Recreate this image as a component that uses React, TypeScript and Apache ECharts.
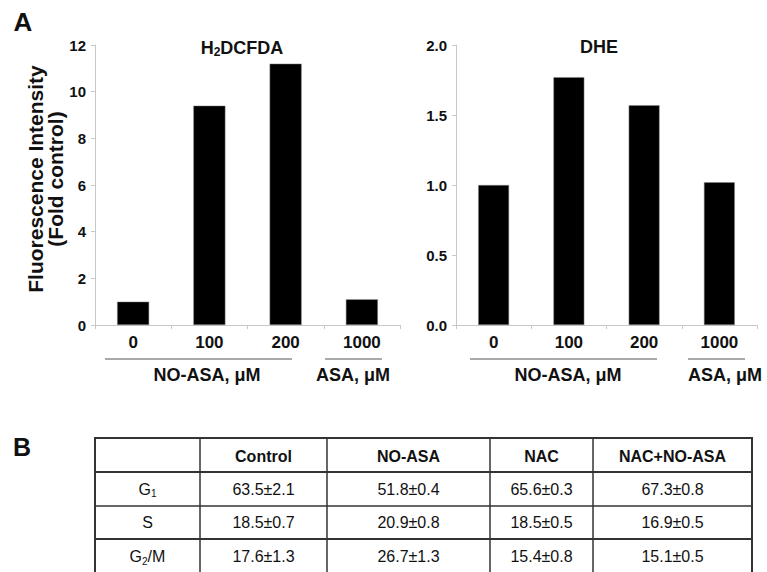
import React, { useEffect, useRef } from 'react';
import * as echarts from 'echarts';

// ---- data ----
const doseCategories = ['0', '100', '200', '1000'];
const h2dcfdaValues = [1.0, 9.4, 11.2, 1.1];
const dheValues = [1.0, 1.77, 1.57, 1.02];
const groupLabels = ['NO-ASA, μM', 'ASA, μM'];

const tableColumns = ['Control', 'NO-ASA', 'NAC', 'NAC+NO-ASA'];
const tablePhases = ['{m|G}{s|1}', '{m|S}', '{m|G}{s|2}{m|/M}'];
const g1Values = ['63.5±2.1', '51.8±0.4', '65.6±0.3', '67.3±0.8'];
const sValues = ['18.5±0.7', '20.9±0.8', '18.5±0.5', '16.9±0.5'];
const g2mValues = ['17.6±1.3', '26.7±1.3', '15.4±0.8', '15.1±0.5'];

const FONT = '"Liberation Sans", Arial, Helvetica, sans-serif';
const INK = '#111';

export default function App() {
  const ref = useRef<HTMLDivElement>(null);

  useEffect(() => {
    if (!ref.current) return;
    const chart = echarts.init(ref.current, undefined, { renderer: 'svg' });

    // table layout
    const colX = [95, 200, 327, 490, 593, 752];
    const rowY = [438, 472, 506, 539, 574];
    const rows = [g1Values, sValues, g2mValues];
    const tableEls: any[] = [];
    tableEls.push({
      type: 'rect',
      shape: { x: colX[0], y: rowY[0], width: colX[5] - colX[0], height: rowY[4] - rowY[0] },
      style: { fill: 'none', stroke: '#333', lineWidth: 2 },
    });
    for (let i = 1; i < colX.length - 1; i++) {
      tableEls.push({
        type: 'line',
        shape: { x1: colX[i], y1: rowY[0], x2: colX[i], y2: rowY[4] },
        style: { stroke: '#333', lineWidth: 1.5 },
      });
    }
    for (let j = 1; j < rowY.length - 1; j++) {
      tableEls.push({
        type: 'line',
        shape: { x1: colX[0], y1: rowY[j], x2: colX[5], y2: rowY[j] },
        style: { stroke: '#333', lineWidth: j === 2 ? 1.5 : 2 },
      });
    }
    const cx = (i: number) => (colX[i] + colX[i + 1]) / 2;
    const cy = (j: number) => (rowY[j] + rowY[j + 1]) / 2;
    const centered = { align: 'center', verticalAlign: 'middle', textAlign: 'center', textVerticalAlign: 'middle' };
    tableColumns.forEach((c, i) => {
      tableEls.push({
        type: 'text',
        x: cx(i + 1),
        y: cy(0) + 1,
        style: { text: c, fill: INK, font: `bold 16px ${FONT}`, ...centered },
      });
    });
    tablePhases.forEach((p, j) => {
      tableEls.push({
        type: 'text',
        x: cx(0),
        y: cy(j + 1),
        style: {
          text: p, fill: INK, font: `16px ${FONT}`, ...centered,
          rich: {
            m: { fontSize: 16, fontFamily: FONT, fill: INK },
            s: { fontSize: 10, fontFamily: FONT, fill: INK, padding: [9, 0, 0, 0] },
          },
        },
      });
      rows[j].forEach((v, i) => {
        tableEls.push({
          type: 'text',
          x: cx(i + 1),
          y: cy(j + 1),
          style: { text: v, fill: INK, font: `16px ${FONT}`, ...centered },
        });
      });
    });

    const groupText = (text: string, x: number) => ({
      type: 'text', x, y: 375,
      style: { text, fill: INK, font: `bold 18px ${FONT}`, ...centered },
    });
    const groupLine = (x1: number, x2: number) => ({
      type: 'line', shape: { x1, y1: 359, x2, y2: 359 },
      style: { stroke: '#555', lineWidth: 1 },
    });

    const axisCommon = {
      axisLine: { show: true, lineStyle: { color: '#c8c8c8', width: 1 } },
      splitLine: { show: false },
    };
    const catLabel = { fontSize: 17, fontWeight: 'bold', fontFamily: FONT, color: INK, margin: 9 };
    const valLabel = { fontSize: 15, fontWeight: 'bold', fontFamily: FONT, color: INK, margin: 9 };
    const tick = { show: true, length: 4, lineStyle: { color: '#c8c8c8' } };

    chart.setOption({
      animation: false,
      backgroundColor: '#fff',
      title: [
        {
          text: '{a|H}{s|2}{a|DCFDA}', left: 237, top: 32, textAlign: 'center',
          textStyle: {
            rich: {
              a: { fontSize: 18, fontWeight: 'bold', fontFamily: FONT, color: INK },
              s: { fontSize: 12, fontWeight: 'bold', fontFamily: FONT, color: INK, padding: [9, 0, 0, 0] },
            },
          },
        },
        {
          text: 'DHE', left: 594, top: 33, textAlign: 'center',
          textStyle: { fontSize: 18, fontWeight: 'bold', fontFamily: FONT, color: INK },
        },
      ],
      grid: [
        { left: 95, top: 45, width: 305, height: 280 },
        { left: 456, top: 45, width: 301, height: 280 },
      ],
      xAxis: [
        { type: 'category', gridIndex: 0, data: doseCategories, boundaryGap: true, ...axisCommon, axisTick: tick, axisLabel: catLabel },
        { type: 'category', gridIndex: 1, data: doseCategories, boundaryGap: true, ...axisCommon, axisTick: tick, axisLabel: catLabel },
      ],
      yAxis: [
        {
          type: 'value', gridIndex: 0, min: 0, max: 12, interval: 2,
          ...axisCommon, axisTick: tick, axisLabel: valLabel,
        },
        {
          type: 'value', gridIndex: 1, min: 0, max: 2, interval: 0.5,
          ...axisCommon, axisTick: tick,
          axisLabel: { ...valLabel, formatter: (v: number) => v.toFixed(1) },
        },
      ],
      series: [
        {
          type: 'bar', xAxisIndex: 0, yAxisIndex: 0, data: h2dcfdaValues, barWidth: '42%',
          itemStyle: { color: '#000', borderColor: '#888', borderWidth: 0.5 },
        },
        {
          type: 'bar', xAxisIndex: 1, yAxisIndex: 1, data: dheValues, barWidth: '41%',
          itemStyle: { color: '#000', borderColor: '#888', borderWidth: 0.5 },
        },
      ],
      graphic: [
        {
          type: 'text', x: 23, y: 22,
          style: { text: 'A', fill: INK, font: `bold 26px ${FONT}`, ...centered },
        },
        {
          type: 'text', x: 22, y: 447,
          style: { text: 'B', fill: INK, font: `bold 25px ${FONT}`, ...centered },
        },
        {
          type: 'text', x: 45, y: 179, rotation: Math.PI / 2,
          style: {
            text: 'Fluorescence Intensity\n(Fold control)', fill: INK, font: `bold 21px ${FONT}`,
            lineHeight: 20, ...centered,
          },
        },
        groupLine(105, 292),
        groupLine(325, 382),
        groupLine(470, 657),
        groupLine(688, 745),
        groupText(groupLabels[0], 207),
        groupText(groupLabels[1], 353),
        groupText(groupLabels[0], 568),
        groupText(groupLabels[1], 725),
        ...tableEls,
      ],
    });

    return () => chart.dispose();
  }, []);

  return (
    <div
      ref={ref}
      style={{ position: 'fixed', left: 0, top: 0, width: 767, height: 572, background: '#fff' }}
    />
  );
}
